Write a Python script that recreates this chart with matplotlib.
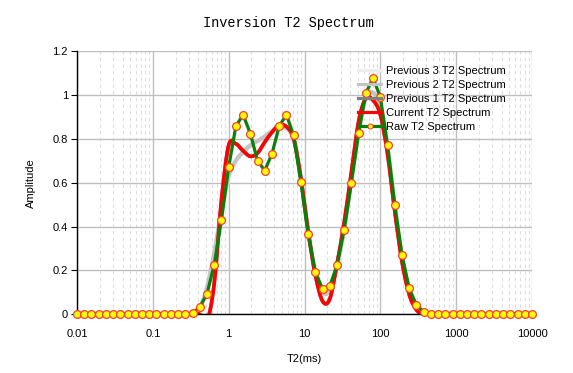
import numpy as np
import matplotlib
matplotlib.use("Agg")
import matplotlib.pyplot as plt
from matplotlib.path import Path
from matplotlib.patches import PathPatch
from matplotlib.lines import Line2D
from matplotlib.ticker import FixedLocator, FixedFormatter, LogLocator, NullFormatter

# ---------------- data ----------------
t2_ms = np.logspace(-2, 4, 64)

raw_t2 = [0, 0, 0, 0, 0, 0, 0, 0, 0, 0,
          0, 0, 0, 0, 0, 0.0, 0.005, 0.033, 0.093, 0.226,
          0.43, 0.67, 0.858, 0.909, 0.824, 0.70, 0.655, 0.732, 0.858, 0.909,
          0.815, 0.603, 0.368, 0.194, 0.115, 0.128, 0.224, 0.386, 0.60, 0.826,
          1.009, 1.077, 0.99, 0.77, 0.50, 0.27, 0.118, 0.042, 0.01, 0,
          0, 0, 0, 0, 0, 0, 0, 0, 0, 0,
          0, 0, 0, 0]

current_t2 = [0, 0, 0, 0, 0, 0, 0, 0, 0, 0,
              0, 0, 0, 0, 0, 0, 0, 0, -0.03, 0.14,
              0.52, 0.77, 0.777, 0.745, 0.72, 0.735, 0.785, 0.83, 0.862, 0.855,
              0.80, 0.62, 0.38, 0.18, 0.06, 0.07, 0.23, 0.42, 0.65, 0.88,
              0.985, 0.975, 0.91, 0.73, 0.47, 0.24, 0.09, 0.02, 0, 0,
              0, 0, 0, 0, 0, 0, 0, 0, 0, 0,
              0, 0, 0, 0]

previous1_t2 = [0, 0, 0, 0, 0, 0, 0, 0, 0, 0,
                0, 0, 0, 0, 0, 0, 0, 0, -0.03, 0.14,
                0.52, 0.77, 0.777, 0.745, 0.72, 0.735, 0.785, 0.83, 0.862, 0.855,
                0.80, 0.62, 0.38, 0.18, 0.06, 0.07, 0.23, 0.42, 0.65, 0.88,
                0.985, 0.975, 0.91, 0.73, 0.47, 0.24, 0.09, 0.02, 0, 0,
                0, 0, 0, 0, 0, 0, 0, 0, 0, 0,
                0, 0, 0, 0]

previous2_t2 = [0, 0, 0, 0, 0, 0, 0, 0, 0, 0,
                0, 0, 0, 0, 0, 0, 0, 0.03, 0.12, 0.28,
                0.47, 0.63, 0.70, 0.74, 0.77, 0.79, 0.81, 0.835, 0.855, 0.85,
                0.80, 0.62, 0.38, 0.19, 0.10, 0.11, 0.22, 0.39, 0.62, 0.84,
                0.99, 1.01, 0.95, 0.76, 0.49, 0.26, 0.11, 0.04, 0.01, 0,
                0, 0, 0, 0, 0, 0, 0, 0, 0, 0,
                0, 0, 0, 0]

previous3_t2 = [0, 0, 0, 0, 0, 0, 0, 0, 0, 0,
                0, 0, 0, 0, 0, 0, 0, 0.03, 0.12, 0.27,
                0.46, 0.62, 0.70, 0.74, 0.77, 0.79, 0.81, 0.83, 0.85, 0.845,
                0.80, 0.62, 0.38, 0.19, 0.10, 0.11, 0.22, 0.39, 0.61, 0.83,
                0.98, 1.00, 0.94, 0.76, 0.49, 0.26, 0.11, 0.04, 0.01, 0,
                0, 0, 0, 0, 0, 0, 0, 0, 0, 0,
                0, 0, 0, 0]

x_ticks = [0.01, 0.1, 1, 10, 100, 1000, 10000]
x_tick_labels = ["0.01", "0.1", "1", "10", "100", "1000", "10000"]
y_ticks = [0, 0.2, 0.4, 0.6, 0.8, 1.0, 1.2]
y_tick_labels = ["0", "0.2", "0.4", "0.6", "0.8", "1", "1.2"]

series_names = ["Previous 3 T2 Spectrum", "Previous 2 T2 Spectrum",
                "Previous 1 T2 Spectrum", "Current T2 Spectrum", "Raw T2 Spectrum"]

# ---------------- style ----------------
FONT = "Liberation Sans"
C_PREV3 = "#EDEDED"
C_PREV2 = "#C4C4C4"
C_PREV1 = "#808080"
C_CUR = "#FF0000"
C_RAW = "#0A800A"


def spline_path(x, y, tension=0.5):
    """Cardinal spline (like the chart's 'Spline' series type) as Bezier path."""
    P = np.column_stack([np.log10(np.asarray(x, float)), np.asarray(y, float)])
    n = len(P)
    verts = [P[0]]
    codes = [Path.MOVETO]
    k = tension / 3.0
    for i in range(n - 1):
        p0 = P[max(i - 1, 0)]
        p1 = P[i]
        p2 = P[i + 1]
        p3 = P[min(i + 2, n - 1)]
        verts += [p1 + k * (p2 - p0), p2 - k * (p3 - p1), p2]
        codes += [Path.CURVE4] * 3
    V = np.array(verts)
    V[:, 0] = 10 ** V[:, 0]
    return Path(V, codes)


W, H = 573, 373
fig = plt.figure(figsize=(W / 100, H / 100), dpi=100)
x0, x1, yb, yt = 77, 532, 314.3, 51
ax = fig.add_axes([x0 / W, 1 - yb / H, (x1 - x0) / W, (yb - yt) / H])
ax.set_xscale("log")

for vals, col, lw in [(previous3_t2, C_PREV3, 3.0), (previous2_t2, C_PREV2, 3.0),
                      (previous1_t2, C_PREV1, 2.6), (current_t2, C_CUR, 2.6)]:
    patch = PathPatch(spline_path(t2_ms, vals), facecolor="none", edgecolor=col,
                      lw=lw, joinstyle="round", capstyle="round", zorder=3)
    ax.add_patch(patch)

ax.plot(t2_ms, raw_t2, color=C_RAW, lw=2.3, zorder=4, solid_joinstyle="round",
        marker="o", markersize=5.6, markerfacecolor="#FFFF00",
        markeredgecolor="#FF3B2F", markeredgewidth=0.9, clip_on=False)

ax.set_xlim(0.01, 10000)
ax.set_ylim(0, 1.2)

ax.xaxis.set_major_locator(FixedLocator(x_ticks))
ax.xaxis.set_major_formatter(FixedFormatter(x_tick_labels))
ax.xaxis.set_minor_locator(LogLocator(base=10, subs=np.arange(2, 10), numticks=20))
ax.xaxis.set_minor_formatter(NullFormatter())
ax.yaxis.set_major_locator(FixedLocator(y_ticks))
ax.yaxis.set_major_formatter(FixedFormatter(y_tick_labels))

ax.grid(True, which="major", axis="both", color="#C0C0C0", lw=1.0, ls="-")
ax.grid(True, which="minor", axis="x", color="#DCDCDC", lw=0.8, ls=(0, (3, 3)))
ax.set_axisbelow(True)

for s in ["top", "right"]:
    ax.spines[s].set_visible(False)
for s in ["left", "bottom"]:
    ax.spines[s].set_color("black")
    ax.spines[s].set_linewidth(1.0)
    ax.spines[s].set_zorder(3.5)

ax.tick_params(axis="x", which="both", length=0, pad=10.5, labelsize=8,
               labelcolor="black")
ax.tick_params(axis="y", which="major", length=4.5, width=0.8, pad=2.0,
               labelsize=8, labelcolor="black", direction="out")
for lab in ax.get_xticklabels() + ax.get_yticklabels():
    lab.set_family(FONT)

ax.set_xlabel("T2(ms)", family=FONT, fontsize=8, labelpad=11)
ax.set_ylabel("Amplitude", family=FONT, fontsize=8, labelpad=12)

fig.text(288 / W, 1 - 23 / H, "Inversion T2 Spectrum", ha="center", va="center",
         family="Liberation Mono", fontsize=9.8, color="black")

handles = [
    Line2D([], [], color=C_PREV3, lw=2.3),
    Line2D([], [], color=C_PREV2, lw=2.3),
    Line2D([], [], color=C_PREV1, lw=2.3),
    Line2D([], [], color=C_CUR, lw=2.3),
    Line2D([], [], color=C_RAW, lw=2.3, marker="o", markersize=3.6,
           markerfacecolor="#FFFF00", markeredgecolor="#FF3B2F", markeredgewidth=0.7),
]
leg = ax.legend(handles, series_names, loc="upper left",
                bbox_to_anchor=(358 / W, 1 - 65.5 / H), bbox_transform=fig.transFigure,
                frameon=False, borderpad=0, borderaxespad=0, handlelength=2.1,
                handletextpad=0.45, labelspacing=0.37, markerscale=1.0,
                prop={"family": FONT, "size": 8})
leg.set_zorder(6)

fig.savefig("out.png", dpi=100)
